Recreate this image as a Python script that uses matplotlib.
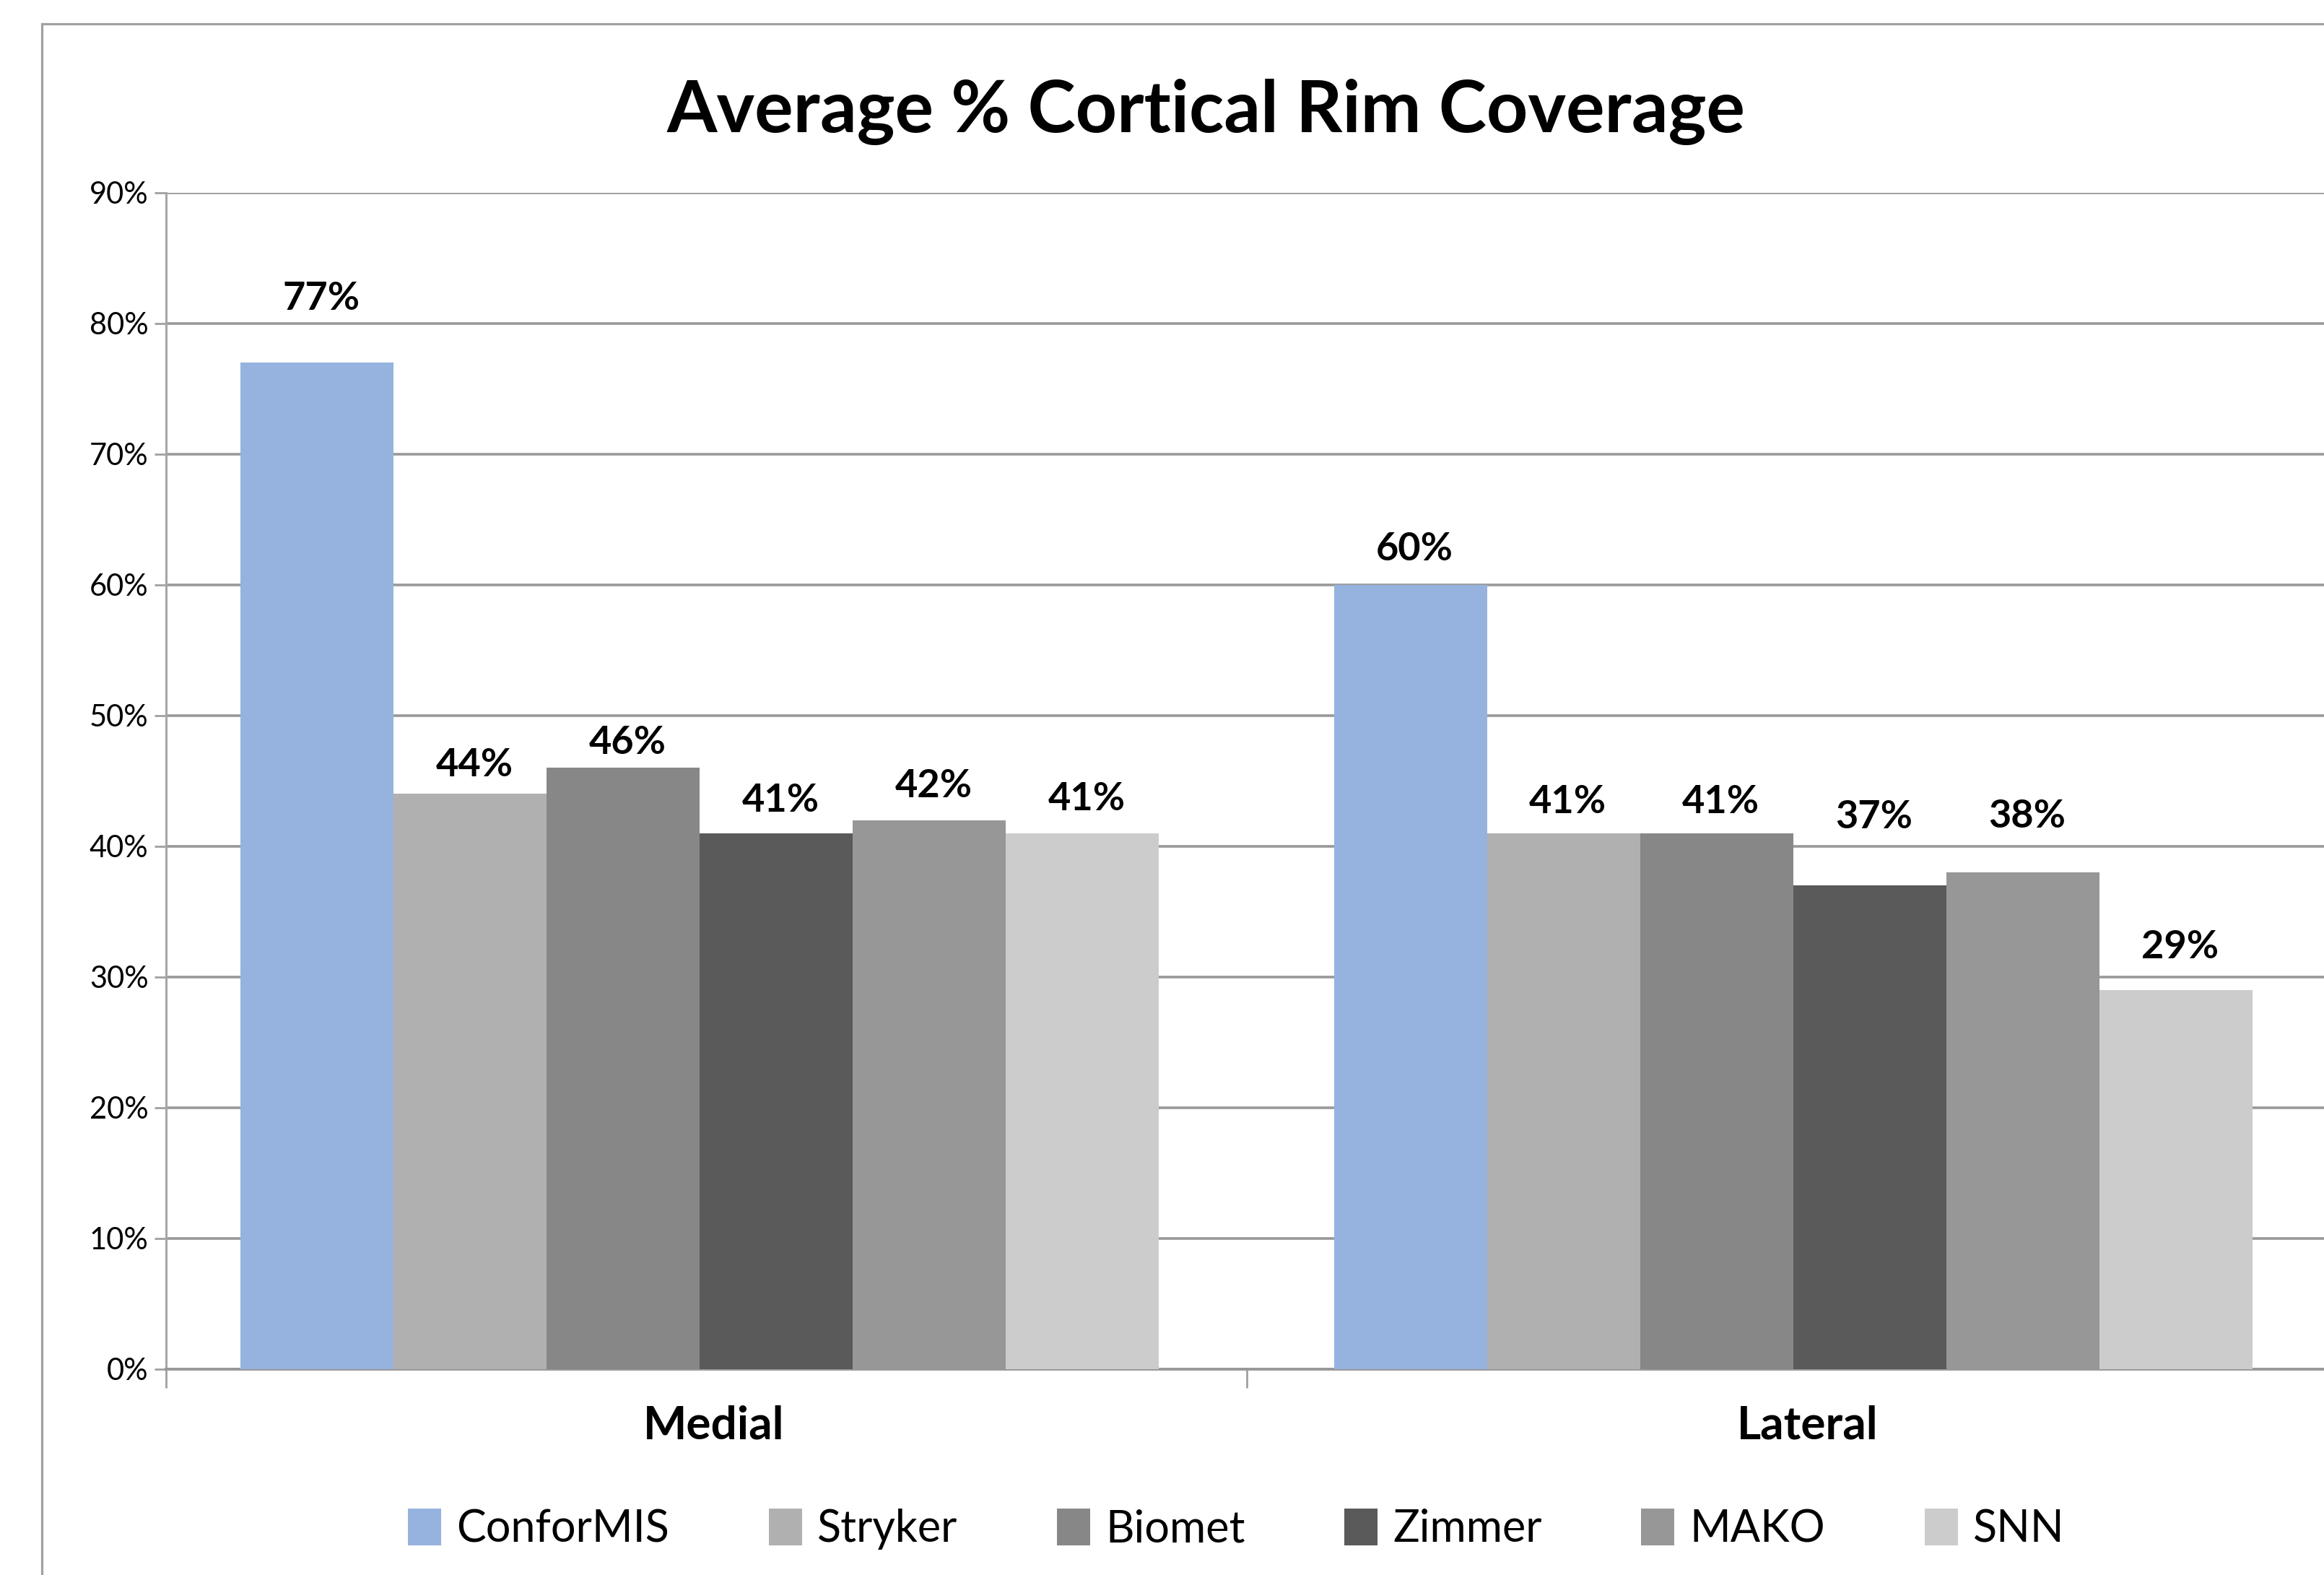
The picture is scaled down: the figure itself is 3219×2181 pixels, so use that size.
import matplotlib.pyplot as plt
import numpy as np
from matplotlib.patches import Rectangle
from matplotlib.ticker import FuncFormatter
import matplotlib.transforms as mtransforms

plt.rcParams['font.family'] = ['Lato', 'DejaVu Sans']

categories = ['Medial', 'Lateral']
companies = ['ConforMIS', 'Stryker', 'Biomet', 'Zimmer', 'MAKO', 'SNN']
coverage = {
    'ConforMIS': [77, 60],
    'Stryker': [44, 41],
    'Biomet': [46, 41],
    'Zimmer': [41, 37],
    'MAKO': [42, 38],
    'SNN': [41, 29],
}
colors = ['#95B3DE', '#B0B0B0', '#878787', '#5A5A5A', '#979797', '#CCCCCC']
yticks = [0, 10, 20, 30, 40, 50, 60, 70, 80, 90]

# how far each value label sits above its bar (percentage points), as in the original
label_lift = {
    'ConforMIS': [4.9, 2.7],
    'Stryker': [2.2, 2.4],
    'Biomet': [1.9, 2.4],
    'Zimmer': [2.5, 5.2],
    'MAKO': [2.6, 4.3],
    'SNN': [2.6, 3.3],
}

fig = plt.figure(figsize=(32.19, 21.81), dpi=100)
ax = fig.add_axes([0.0714, 0.1309, 0.9299, 0.7467])

# outer chart frame (cut off at right and bottom in the original)
fig.patches.append(Rectangle((0.0179, -0.5), 2.0, 0.5 + 0.985, transform=fig.transFigure,
                             fill=False, edgecolor='#A0A0A0', linewidth=2.3))

x = np.arange(len(categories))
w = 0.1417
shift = np.array([-0.006, 0.006])
for j, name in enumerate(companies):
    xs = x + (j - 2.5) * w + shift
    vals = coverage[name]
    ax.bar(xs, vals, width=w, color=colors[j], label=name, zorder=3, linewidth=0)
    for xi, v, lift in zip(xs, vals, label_lift[name]):
        ax.text(xi + 0.004, v + lift, f'{v}%', ha='center', va='center',
                fontsize=39, fontweight='bold', zorder=4)

ax.set_xlim(-0.5, 1.5)
ax.set_ylim(0, 90)
ax.set_yticks(yticks)
ax.yaxis.set_major_formatter(FuncFormatter(lambda v, p: f'{int(v)}%'))
ax.grid(axis='y', color='#989898', linewidth=2.6, zorder=0)
ax.set_axisbelow(True)

for s in ['top', 'right']:
    ax.spines[s].set_visible(False)
ax.spines['left'].set_color('#A6A6A6')
ax.spines['left'].set_linewidth(2.2)
ax.spines['bottom'].set_color('#989898')
ax.spines['bottom'].set_linewidth(2.8)

ax.tick_params(axis='y', length=11.5, width=2, color='#A0A0A0', labelsize=30, pad=6)
ax.set_xticks([-0.5, 0.5, 1.5])
ax.set_xticklabels([])
ax.tick_params(axis='x', length=19, width=2, color='#A0A0A0')

trans = mtransforms.blended_transform_factory(ax.transData, ax.transAxes)
for i, c in enumerate(categories):
    ax.text(x[i] + shift[i] + 0.013, -0.048, c, transform=trans, ha='center', va='center',
            fontsize=46, fontweight='bold')

fig.text(0.519, 0.929, 'Average % Cortical Rim Coverage', ha='center', va='center',
         fontsize=72, fontweight='bold')

fig.legend(loc='center', bbox_to_anchor=(0.532, 0.029), ncol=6, frameon=False,
           fontsize=44, handlelength=0.75, handleheight=0.9, handletextpad=0.35,
           columnspacing=2.25)

fig.savefig('out.png', dpi=100)
